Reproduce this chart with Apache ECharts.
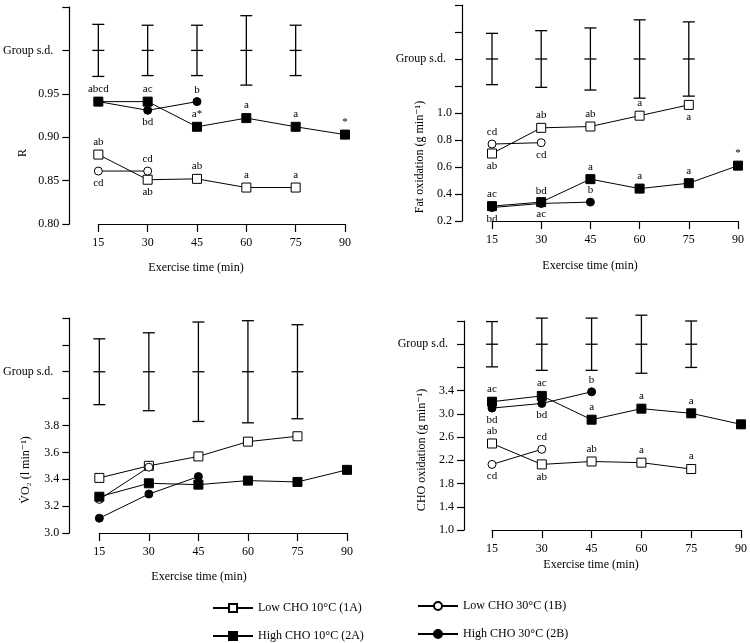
<!DOCTYPE html>
<html>
<head>
<meta charset="UTF-8">
<title>Exercise time panels</title>
<style>
  html, body { margin: 0; padding: 0; background: #fff; }
  #main { width: 750px; height: 643px; }
</style>
</head>
<body>
<div id="main"></div>
<script src="https://cdn.jsdelivr.net/npm/echarts@6/dist/echarts.min.js"></script>
<script>
// ---- data ----
var times = [15, 30, 45, 60, 75, 90];

// R
var rLowCho10 = [0.880, 0.851, 0.852, 0.842, 0.842];
var rLowCho30 = [0.861, 0.861];
var rHighCho10 = [0.941, 0.941, 0.912, 0.922, 0.912, 0.903];
var rHighCho30 = [0.941, 0.931, 0.941];
var rSdCenter = 1.00;
var rSdHalf = [0.030, 0.029, 0.029, 0.040, 0.029];
var rTickLabels = ['0.80', '0.85', '0.90', '0.95', 'Group s.d.', ''];
var rLowCho10Notes = ['ab', 'ab', 'ab', 'a', 'a'];
var rLowCho10Pos = ['top', 'bottom', 'top', 'top', 'top'];
var rLowCho30Notes = ['cd', 'cd'];
var rLowCho30Pos = ['bottom', 'top'];
var rHighCho10Notes = ['abcd', 'ac', 'a*', 'a', 'a', '*'];
var rHighCho10Pos = ['top', 'top', 'top', 'top', 'top', 'top'];
var rHighCho30Notes = ['', 'bd', 'b'];
var rHighCho30Pos = ['top', 'bottom', 'top'];

// Fat oxidation
var fatLowCho10 = [0.70, 0.89, 0.90, 0.98, 1.06];
var fatLowCho30 = [0.77, 0.78];
var fatHighCho10 = [0.31, 0.34, 0.51, 0.44, 0.48, 0.61];
var fatHighCho30 = [0.30, 0.33, 0.34];
var fatSdCenter = 1.4;
var fatSdHalf = [0.19, 0.21, 0.23, 0.29, 0.275];
var fatTickLabels = ['0.2', '0.4', '0.6', '0.8', '1.0', '', 'Group s.d.', '', ''];
var fatLowCho10Notes = ['ab', 'ab', 'ab', 'a', 'a'];
var fatLowCho10Pos = ['bottom', 'top', 'top', 'top', 'bottom'];
var fatLowCho30Notes = ['cd', 'cd'];
var fatLowCho30Pos = ['top', 'bottom'];
var fatHighCho10Notes = ['ac', 'ac', 'a', 'a', 'a', '*'];
var fatHighCho10Pos = ['top', 'bottom', 'top', 'top', 'top', 'top'];
var fatHighCho30Notes = ['bd', 'bd', 'b'];
var fatHighCho30Pos = ['bottom', 'top', 'top'];

// VO2
var vo2LowCho10 = [3.41, 3.50, 3.57, 3.68, 3.72];
var vo2LowCho30 = [3.25, 3.49];
var vo2HighCho10 = [3.27, 3.37, 3.36, 3.39, 3.38, 3.47];
var vo2HighCho30 = [3.11, 3.29, 3.42];
var vo2SdCenter = 4.2;
var vo2SdHalf = [0.245, 0.29, 0.37, 0.38, 0.35];
var vo2TickLabels = ['3.0', '3.2', '3.4', '3.6', '3.8', '', 'Group s.d.', '', ''];

// CHO oxidation
var choLowCho10 = [2.49, 2.13, 2.18, 2.16, 2.05];
var choLowCho30 = [2.13, 2.39];
var choHighCho10 = [3.21, 3.31, 2.90, 3.09, 3.01, 2.82];
var choHighCho30 = [3.10, 3.18, 3.38];
var choSdCenter = 4.2;
var choSdHalf = [0.39, 0.45, 0.45, 0.50, 0.40];
var choTickLabels = ['1.0', '1.4', '1.8', '2.2', '2.6', '3.0', '3.4', '', 'Group s.d.', ''];
var choLowCho10Notes = ['ab', 'ab', 'ab', 'a', 'a'];
var choLowCho10Pos = ['top', 'bottom', 'top', 'top', 'top'];
var choLowCho30Notes = ['cd', 'cd'];
var choLowCho30Pos = ['bottom', 'top'];
var choHighCho10Notes = ['ac', 'ac', 'a', 'a', 'a', ''];
var choHighCho10Pos = ['top', 'top', 'top', 'top', 'top', 'top'];
var choHighCho30Notes = ['bd', 'bd', 'b'];
var choHighCho30Pos = ['bottom', 'bottom', 'top'];

var seriesNames = ['Low CHO 10°C (1A)', 'Low CHO 30°C (1B)', 'High CHO 10°C (2A)', 'High CHO 30°C (2B)'];

// ---- styling ----
var FONT = '"Liberation Serif", "DejaVu Serif", serif';
var symbolStyles = [
  { symbol: 'rect', symbolSize: 9, fill: '#fff' },
  { symbol: 'circle', symbolSize: 8, fill: '#fff' },
  { symbol: 'rect', symbolSize: 9, fill: '#000' },
  { symbol: 'circle', symbolSize: 8, fill: '#000' }
];

var panels = [
  { grid: { left: 97, top: 7, width: 248, height: 217 }, yMin: 0.8, yMax: 1.05, yStep: 0.05, yOffset: 29,
    ticks: rTickLabels, values: [rLowCho10, rLowCho30, rHighCho10, rHighCho30],
    notes: [rLowCho10Notes, rLowCho30Notes, rHighCho10Notes, rHighCho30Notes],
    pos: [rLowCho10Pos, rLowCho30Pos, rHighCho10Pos, rHighCho30Pos],
    sdCenter: rSdCenter, sdHalf: rSdHalf },
  { grid: { left: 492, top: 5, width: 246, height: 216 }, yMin: 0.2, yMax: 1.8, yStep: 0.2, yOffset: 30,
    ticks: fatTickLabels, values: [fatLowCho10, fatLowCho30, fatHighCho10, fatHighCho30],
    notes: [fatLowCho10Notes, fatLowCho30Notes, fatHighCho10Notes, fatHighCho30Notes],
    pos: [fatLowCho10Pos, fatLowCho30Pos, fatHighCho10Pos, fatHighCho30Pos],
    sdCenter: fatSdCenter, sdHalf: fatSdHalf },
  { grid: { left: 99, top: 318, width: 248, height: 215 }, yMin: 3.0, yMax: 4.6, yStep: 0.2, yOffset: 30,
    ticks: vo2TickLabels, values: [vo2LowCho10, vo2LowCho30, vo2HighCho10, vo2HighCho30],
    notes: null, pos: null,
    sdCenter: vo2SdCenter, sdHalf: vo2SdHalf },
  { grid: { left: 492, top: 321, width: 249, height: 209 }, yMin: 1.0, yMax: 4.6, yStep: 0.4, yOffset: 28,
    ticks: choTickLabels, values: [choLowCho10, choLowCho30, choHighCho10, choHighCho30],
    notes: [choLowCho10Notes, choLowCho30Notes, choHighCho10Notes, choHighCho30Notes],
    pos: [choLowCho10Pos, choLowCho30Pos, choHighCho10Pos, choHighCho30Pos],
    sdCenter: choSdCenter, sdHalf: choSdHalf }
];

var grids = [], xAxes = [], yAxes = [], series = [];

panels.forEach(function (p, gi) {
  grids.push(p.grid);
  xAxes.push({
    type: 'value', gridIndex: gi, min: 15, max: 90, interval: 15,
    axisLine: { onZero: false, lineStyle: { color: '#000', width: 1.2 } },
    axisTick: { length: 8, lineStyle: { color: '#000', width: 1.2 } },
    axisLabel: { color: '#000', fontFamily: FONT, fontSize: 12, margin: 13 },
    splitLine: { show: false }
  });
  yAxes.push({
    type: 'value', gridIndex: gi, min: p.yMin, max: p.yMax, interval: p.yStep, offset: p.yOffset,
    axisLine: { show: true, lineStyle: { color: '#000', width: 1.2 } },
    axisTick: { show: true, length: 7, lineStyle: { color: '#000', width: 1.2 } },
    axisLabel: {
      color: '#000', fontFamily: FONT, fontSize: 12, margin: 10,
      formatter: function (v) {
        var i = Math.round((v - p.yMin) / p.yStep);
        var t = p.ticks[i] !== undefined ? p.ticks[i] : '';
        return t.indexOf('Group') === 0 ? '{g|' + t + '}' : t;
      },
      rich: { g: { fontFamily: FONT, fontSize: 12, color: '#000', padding: [0, 6, 0, 0] } }
    },
    splitLine: { show: false }
  });

  p.values.forEach(function (vals, si) {
    var st = symbolStyles[si];
    var data = vals.map(function (v, i) {
      var item = { value: [times[i], v] };
      if (p.notes && p.notes[si][i]) {
        item.label = { show: true, formatter: p.notes[si][i], position: p.pos[si][i] };
      }
      return item;
    });
    series.push({
      name: seriesNames[si], type: 'line', xAxisIndex: gi, yAxisIndex: gi,
      data: data, symbol: st.symbol, symbolSize: st.symbolSize, showAllSymbol: true,
      lineStyle: { color: '#000', width: 1 },
      itemStyle: { color: st.fill, borderColor: '#000', borderWidth: 1 },
      label: { color: '#000', fontFamily: FONT, fontSize: 11, distance: 2 },
      emphasis: { disabled: true },
      z: si >= 2 ? 4 : 3
    });
  });

  series.push({
    type: 'custom', xAxisIndex: gi, yAxisIndex: gi,
    data: p.sdHalf.map(function (h, i) { return [times[i], p.sdCenter, h]; }),
    encode: { x: 0, y: 1 },
    renderItem: function (params, api) {
      var x = api.value(0), c = api.value(1), h = api.value(2);
      var top = api.coord([x, c + h]), mid = api.coord([x, c]), bot = api.coord([x, c - h]);
      var w = 6, st = { stroke: '#000', lineWidth: 1.3 };
      return { type: 'group', children: [
        { type: 'line', shape: { x1: top[0], y1: top[1], x2: bot[0], y2: bot[1] }, style: st },
        { type: 'line', shape: { x1: top[0] - w, y1: top[1], x2: top[0] + w, y2: top[1] }, style: st },
        { type: 'line', shape: { x1: mid[0] - w, y1: mid[1], x2: mid[0] + w, y2: mid[1] }, style: st },
        { type: 'line', shape: { x1: bot[0] - w, y1: bot[1], x2: bot[0] + w, y2: bot[1] }, style: st }
      ] };
    },
    silent: true
  });
});

function titleText(x, y, text, rotate) {
  return {
    type: 'text', x: x, y: y, rotation: rotate ? Math.PI / 2 : 0,
    style: { text: text, fill: '#000', font: '12px ' + FONT, align: 'center', verticalAlign: 'middle' }
  };
}

var legendBase = {
  orient: 'vertical', padding: 0, itemWidth: 40, itemHeight: 10, itemGap: 16,
  textStyle: { fontFamily: FONT, fontSize: 12, color: '#000' }
};

var option = {
  animation: false,
  backgroundColor: '#fff',
  grid: grids,
  xAxis: xAxes,
  yAxis: yAxes,
  legend: [
    Object.assign({ left: 212, top: 602, data: [seriesNames[0], seriesNames[2]] }, legendBase),
    Object.assign({ left: 417, top: 600, data: [seriesNames[1], seriesNames[3]] }, legendBase)
  ],
  graphic: [
    titleText(23, 153, 'R', true),
    titleText(420, 157, 'Fat oxidation (g min⁻¹)', true),
    titleText(26, 470, 'V̇O₂ (l min⁻¹)', true),
    titleText(422, 450, 'CHO oxidation (g min⁻¹)', true),
    titleText(196, 268, 'Exercise time (min)'),
    titleText(590, 266, 'Exercise time (min)'),
    titleText(199, 577, 'Exercise time (min)'),
    titleText(591, 565, 'Exercise time (min)')
  ],
  series: series
};

var chart = echarts.init(document.getElementById('main'));
chart.setOption(option);
</script>
</body>
</html>
